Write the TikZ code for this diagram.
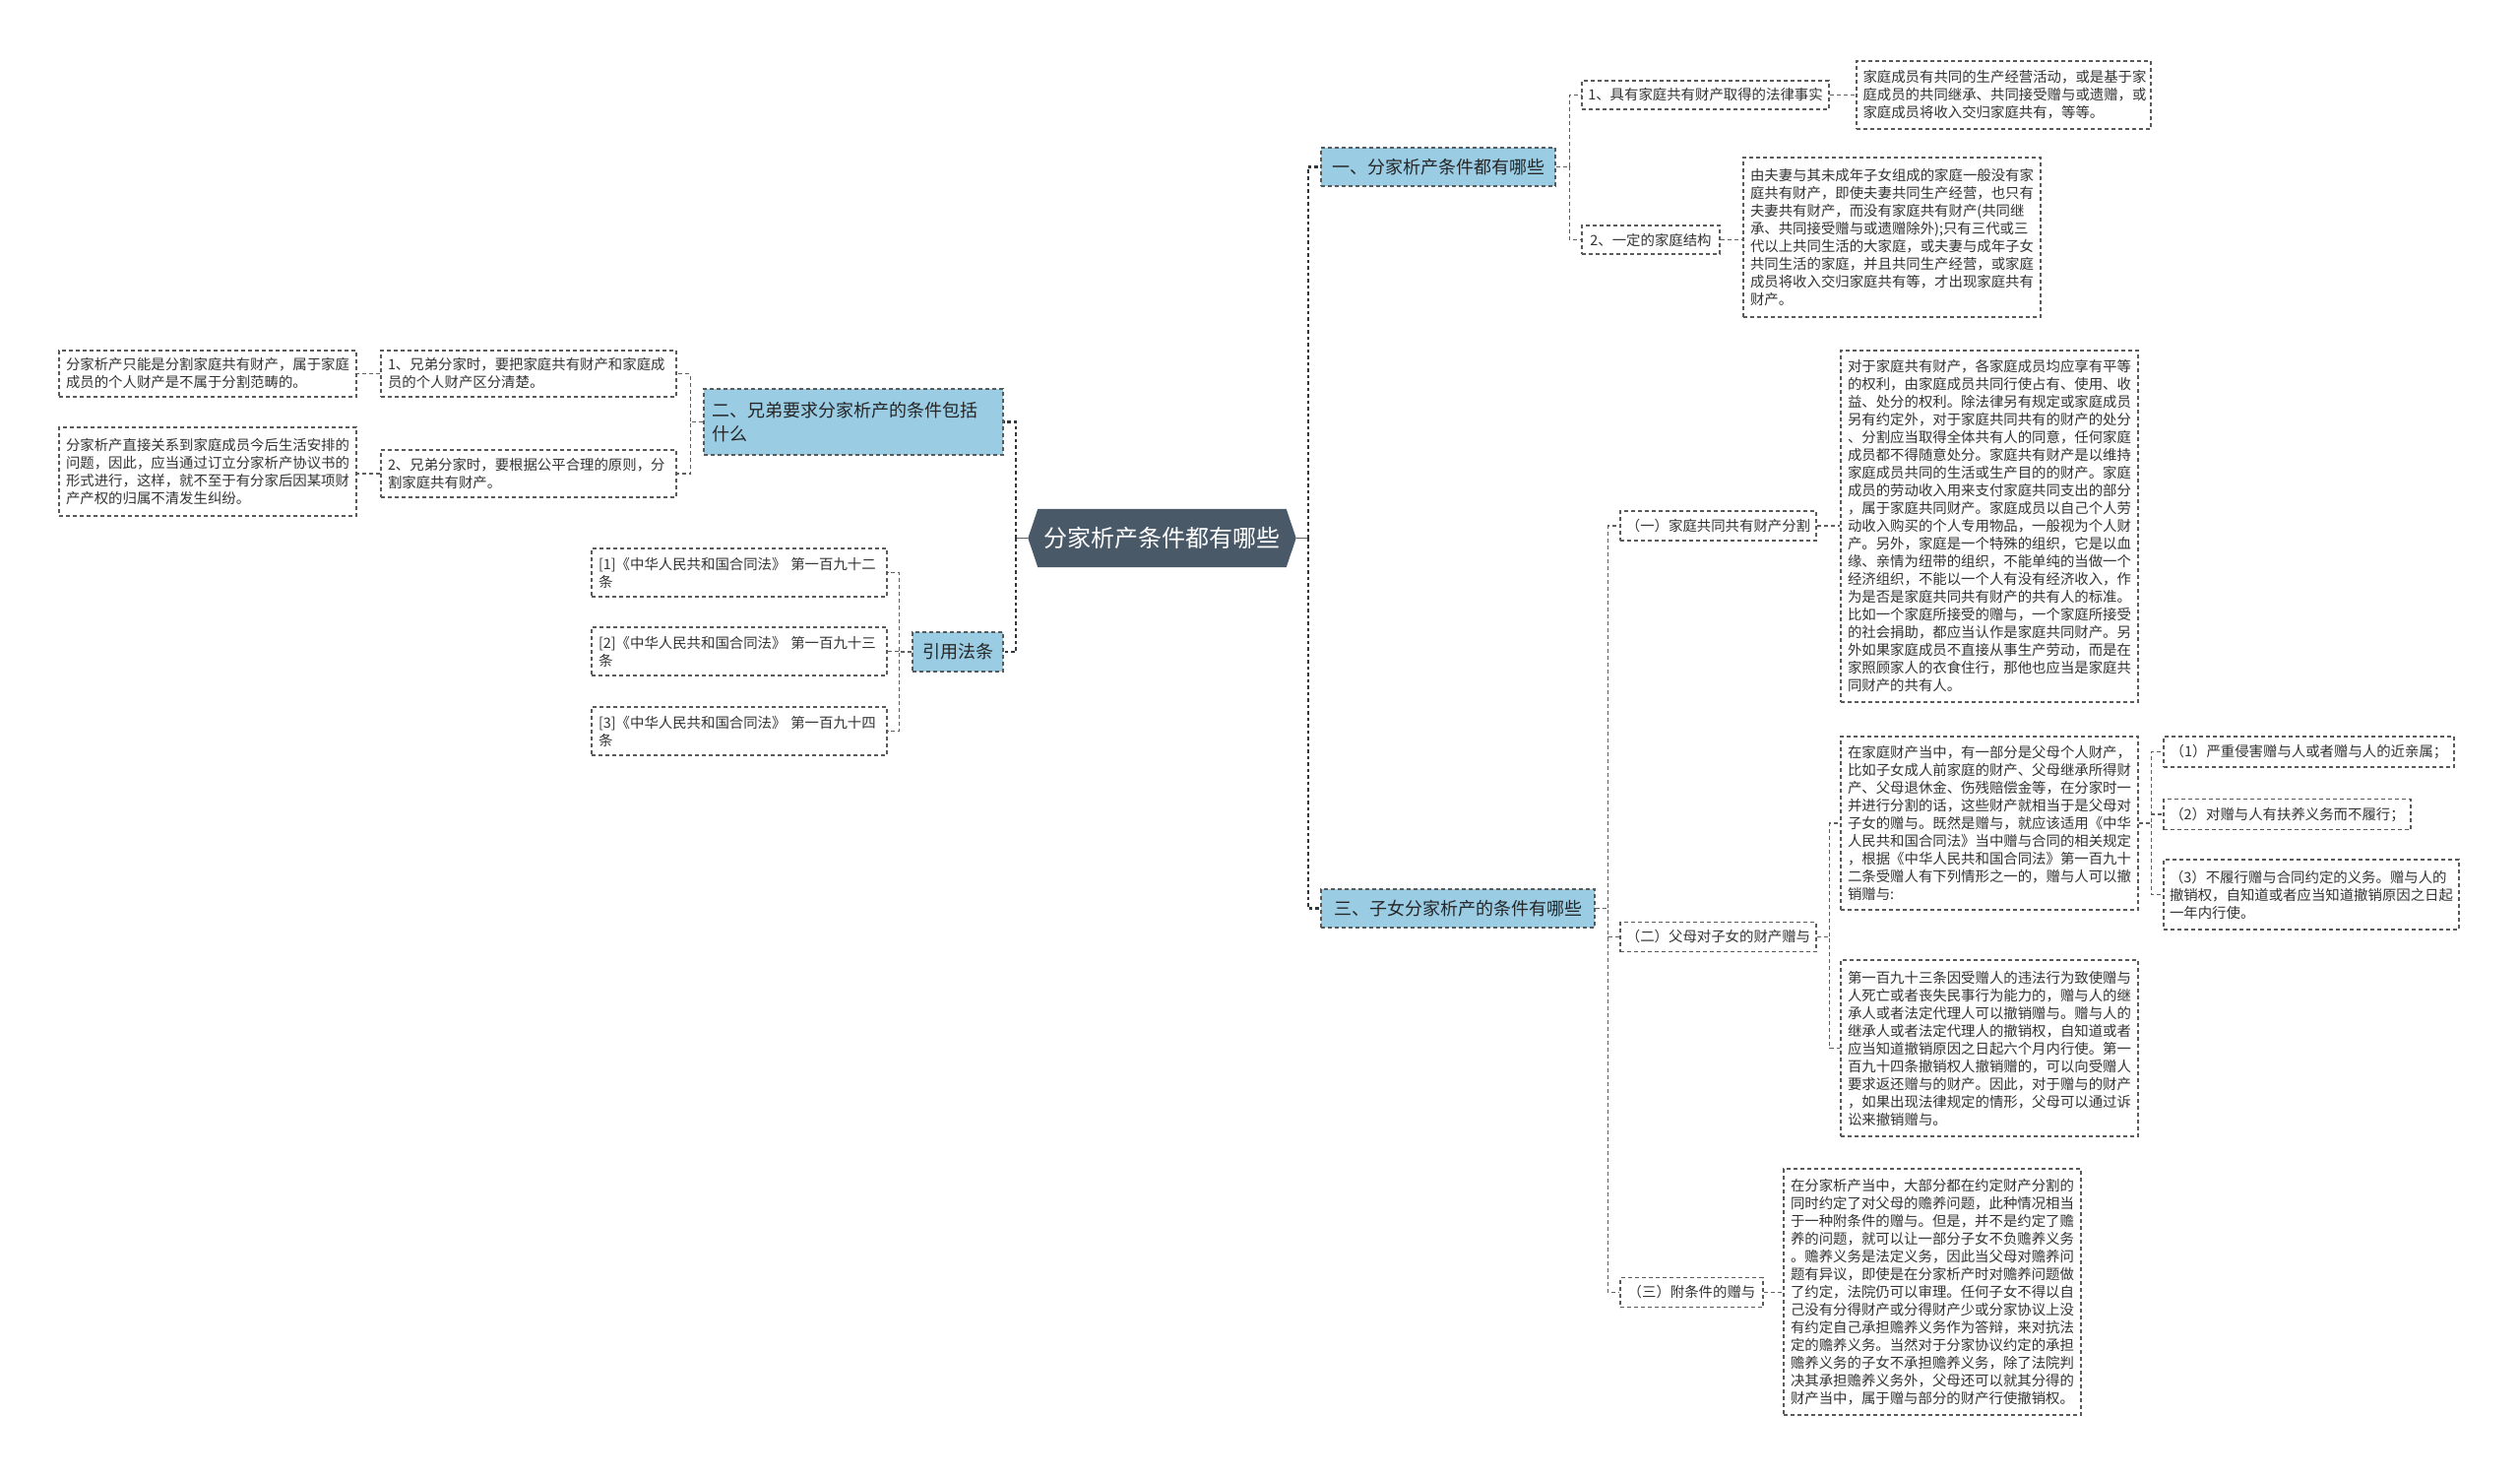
\documentclass[tikz,border=0pt]{standalone}
\usepackage{fontspec}
\newfontfamily\cjk{Noto Sans CJK SC}
\usetikzlibrary{backgrounds,calc}
\definecolor{lineC}{RGB}{90,90,90}
\definecolor{connC}{RGB}{95,95,95}
\definecolor{trunkC}{RGB}{50,55,60}
\definecolor{blueC}{RGB}{154,204,228}
\definecolor{rootC}{RGB}{74,89,104}
\definecolor{txtC}{RGB}{51,51,51}
\tikzset{
  box/.style={draw=lineC, dash pattern=on 4pt off 3pt, line width=1.2pt, text=txtC,
    font=\cjk\fontsize{14.4}{18}\selectfont, inner sep=0pt},
  leaf/.style={box, align=left, inner xsep=7pt},
  lvl1/.style={box, fill=blueC, text=black!85, font=\cjk\fontsize{18}{24}\selectfont},
  conn/.style={draw=connC, line width=1.2pt, dash pattern=on 4pt off 3pt},
  trunk/.style={draw=trunkC, line width=2.2pt, dash pattern=on 3.5pt off 3pt},
  connsolid/.style={draw=trunkC!80, line width=1.6pt},
}
\begin{document}
\begin{tikzpicture}[x=1pt,y=-1pt]
\useasboundingbox (0,0) rectangle (2560,1501);
\begin{scope}[on background layer]
\fill[white] (0,0) rectangle (2560,1501);
\end{scope}

% root
\node[inner sep=0pt, minimum width=252pt, minimum height=59pt, text=white,
      font=\cjk\fontsize{24}{28}\selectfont] (root) at (1180.5,546.5) {分家析产条件都有哪些};
\coordinate (rootR) at ($(root.east)+(10,0)$);
\coordinate (rootL) at ($(root.west)+(-10,0)$);
\begin{scope}[on background layer]
\fill[rootC] (root.north west) -- (root.north east) -- (rootR) -- (root.south east)
  -- (root.south west) -- (rootL) -- cycle;
\end{scope}

% level 1
\node[lvl1, minimum width=238pt, minimum height=39pt] (a1) at (1461,169.5) {一、分家析产条件都有哪些};
\node[lvl1, minimum width=278pt, minimum height=39pt] (a3) at (1481,922.5) {三、子女分家析产的条件有哪些};
\node[lvl1, align=left, text width=288pt, inner xsep=8pt, minimum height=67pt] (b) at (867,428.5) {二、兄弟要求分家析产的条件包括\\什么};
\node[lvl1, minimum width=92pt, minimum height=40pt] (c) at (973,662) {引用法条};

% branch one
\node[box, minimum width=251pt, minimum height=29pt] (a11) at (1732.5,96.5) {1、具有家庭共有财产取得的法律事实};
\node[box, minimum width=140pt, minimum height=29pt] (a12) at (1677,243.5) {2、一定的家庭结构};
\node[leaf, text width=286pt, inner xsep=6.5pt, minimum height=69pt] (a11l) at (2035.5,96.5) {家庭成员有共同的生产经营活动，或是基于家\\庭成员的共同继承、共同接受赠与或遗赠，或\\家庭成员将收入交归家庭共有，等等。};
\node[leaf, text width=288pt, minimum height=162pt] (a12l) at (1922,241) {由夫妻与其未成年子女组成的家庭一般没有家\\庭共有财产，即使夫妻共同生产经营，也只有\\夫妻共有财产，而没有家庭共有财产(共同继\\承、共同接受赠与或遗赠除外);只有三代或三\\代以上共同生活的大家庭，或夫妻与成年子女\\共同生活的家庭，并且共同生产经营，或家庭\\成员将收入交归家庭共有等，才出现家庭共有\\财产。};

% branch three
\node[box, minimum width=199pt, minimum height=30pt] (a31) at (1745.5,534) {（一）家庭共同共有财产分割};
\node[leaf, text width=288pt, minimum height=357pt] (a31l) at (2021,534.5) {对于家庭共有财产，各家庭成员均应享有平等\\的权利，由家庭成员共同行使占有、使用、收\\益、处分的权利。除法律另有规定或家庭成员\\另有约定外，对于家庭共同共有的财产的处分\\、分割应当取得全体共有人的同意，任何家庭\\成员都不得随意处分。家庭共有财产是以维持\\家庭成员共同的生活或生产目的的财产。家庭\\成员的劳动收入用来支付家庭共同支出的部分\\，属于家庭共同财产。家庭成员以自己个人劳\\动收入购买的个人专用物品，一般视为个人财\\产。另外，家庭是一个特殊的组织，它是以血\\缘、亲情为纽带的组织，不能单纯的当做一个\\经济组织，不能以一个人有没有经济收入，作\\为是否是家庭共同共有财产的共有人的标准。\\比如一个家庭所接受的赠与，一个家庭所接受\\的社会捐助，都应当认作是家庭共同财产。另\\外如果家庭成员不直接从事生产劳动，而是在\\家照顾家人的衣食住行，那他也应当是家庭共\\同财产的共有人。};
\node[box, minimum width=199pt, minimum height=30pt] (a32) at (1745.5,951.5) {（二）父母对子女的财产赠与};
\node[leaf, text width=288pt, minimum height=176pt] (a32l1) at (2021,836) {在家庭财产当中，有一部分是父母个人财产，\\比如子女成人前家庭的财产、父母继承所得财\\产、父母退休金、伤残赔偿金等，在分家时一\\并进行分割的话，这些财产就相当于是父母对\\子女的赠与。既然是赠与，就应该适用《中华\\人民共和国合同法》当中赠与合同的相关规定\\，根据《中华人民共和国合同法》第一百九十\\二条受赠人有下列情形之一的，赠与人可以撤\\销赠与:};
\node[leaf, text width=288pt, minimum height=179pt] (a32l2) at (2021,1064.5) {第一百九十三条因受赠人的违法行为致使赠与\\人死亡或者丧失民事行为能力的，赠与人的继\\承人或者法定代理人可以撤销赠与。赠与人的\\继承人或者法定代理人的撤销权，自知道或者\\应当知道撤销原因之日起六个月内行使。第一\\百九十四条撤销权人撤销赠的，可以向受赠人\\要求返还赠与的财产。因此，对于赠与的财产\\，如果出现法律规定的情形，父母可以通过诉\\讼来撤销赠与。};
\node[box, minimum width=145pt, minimum height=30pt] (a33) at (1718.5,1312.5) {（三）附条件的赠与};
\node[leaf, text width=288pt, minimum height=250pt] (a33l) at (1963,1312) {在分家析产当中，大部分都在约定财产分割的\\同时约定了对父母的赡养问题，此种情况相当\\于一种附条件的赠与。但是，并不是约定了赡\\养的问题，就可以让一部分子女不负赡养义务\\。赡养义务是法定义务，因此当父母对赡养问\\题有异议，即使是在分家析产时对赡养问题做\\了约定，法院仍可以审理。任何子女不得以自\\己没有分得财产或分得财产少或分家协议上没\\有约定自己承担赡养义务作为答辩，来对抗法\\定的赡养义务。当然对于分家协议约定的承担\\赡养义务的子女不承担赡养义务，除了法院判\\决其承担赡养义务外，父母还可以就其分得的\\财产当中，属于赠与部分的财产行使撤销权。};

\node[box, minimum width=295pt, minimum height=31pt] (g1) at (2345.5,763.5) {（1）严重侵害赠与人或者赠与人的近亲属；};
\node[box, minimum width=251pt, minimum height=31pt] (g2) at (2323.5,827) {（2）对赠与人有扶养义务而不履行；};
\node[leaf, text width=288pt, inner xsep=6pt, minimum height=71pt] (g3) at (2348,908.5) {（3）不履行赠与合同约定的义务。赠与人的\\撤销权，自知道或者应当知道撤销原因之日起\\一年内行使。};

% branch two
\node[leaf, text width=286pt, minimum height=47pt] (b1) at (537,379.5) {1、兄弟分家时，要把家庭共有财产和家庭成\\员的个人财产区分清楚。};
\node[leaf, text width=288pt, minimum height=47pt] (b1l) at (211,379.5) {分家析产只能是分割家庭共有财产，属于家庭\\成员的个人财产是不属于分割范畴的。};
\node[leaf, text width=286pt, minimum height=48pt] (b2) at (537,481) {2、兄弟分家时，要根据公平合理的原则，分\\割家庭共有财产。};
\node[leaf, text width=288pt, minimum height=90pt] (b2l) at (211,479) {分家析产直接关系到家庭成员今后生活安排的\\问题，因此，应当通过订立分家析产协议书的\\形式进行，这样，就不至于有分家后因某项财\\产产权的归属不清发生纠纷。};

% citations
\node[leaf, text width=286pt, minimum height=49pt] (r1) at (751,581.5) {[1]《中华人民共和国合同法》 第一百九十二\\条};
\node[leaf, text width=286pt, minimum height=49pt] (r2) at (751,661.5) {[2]《中华人民共和国合同法》 第一百九十三\\条};
\node[leaf, text width=286pt, minimum height=49pt] (r3) at (751,742.5) {[3]《中华人民共和国合同法》 第一百九十四\\条};

% connectors from root
\draw[connsolid] (rootR) -- ++(12,0) coordinate (trR);
\draw[trunk] (trR) |- (a1.west);
\draw[trunk] (trR) |- (a3.west);
\draw[connsolid] (rootL) -- ++(-12,0) coordinate (trL);
\draw[trunk] (trL) |- (b.east);
\draw[trunk] (trL) |- (c.east);

% branch one connectors
\draw[conn] (a1.east) -- ++(14,0) |- (a11.west);
\draw[conn] (a1.east) -- ++(14,0) |- (a12.west);
\draw[conn] (a11.east) -- (a11.east -| a11l.west);
\draw[conn] (a12.east) -- (a12.east -| a12l.west);

% branch three connectors
\draw[conn] (a3.east) -- ++(13,0) |- (a31.west);
\draw[conn] (a3.east) -- ++(13,0) |- (a32.west);
\draw[conn] (a3.east) -- ++(13,0) |- (a33.west);
\draw[conn] (a31.east) -- (a31.east -| a31l.west);
\draw[conn] (a32.east) -- ++(13,0) |- (a32l1.west);
\draw[conn] (a32.east) -- ++(13,0) |- (a32l2.west);
\draw[conn] (a33.east) -- (a33.east -| a33l.west);
\draw[conn] (a32l1.east) -- ++(13,0) |- (g1.west);
\draw[conn] (a32l1.east) -- ++(13,0) |- (g2.west);
\draw[conn] (a32l1.east) -- ++(13,0) |- (g3.west);

% branch two connectors
\draw[conn] (b.west) -- ++(-13,0) |- (b1.east);
\draw[conn] (b.west) -- ++(-13,0) |- (b2.east);
\draw[conn] (b1.west) -- (b1.west -| b1l.east);
\draw[conn] (b2.west) -- (b2.west -| b2l.east);

% citation connectors
\draw[conn] (c.west) -- ++(-13,0) |- (r1.east);
\draw[conn] (c.west) -- ++(-13,0) |- (r2.east);
\draw[conn] (c.west) -- ++(-13,0) |- (r3.east);
\end{tikzpicture}
\end{document}
